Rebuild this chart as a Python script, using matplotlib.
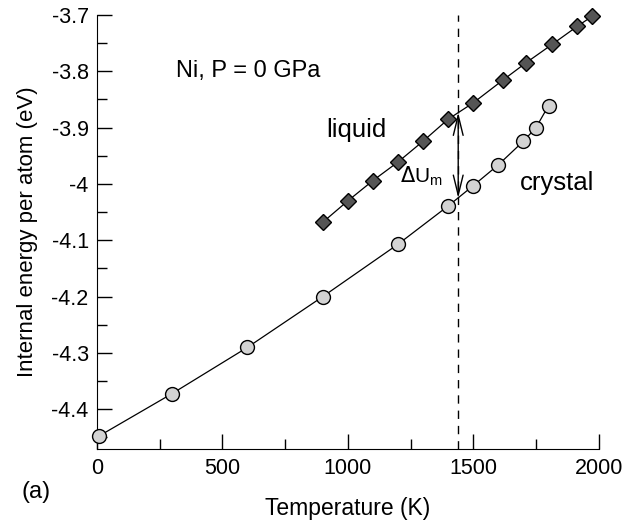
import matplotlib.pyplot as plt
from matplotlib.ticker import MultipleLocator

plt.rcParams['font.family'] = ['Liberation Sans', 'DejaVu Sans']

# crystal branch
t_crystal = [10, 300, 600, 900, 1200, 1400, 1500, 1600, 1700, 1750, 1800]
u_crystal = [-4.447, -4.372, -4.290, -4.200, -4.107, -4.039, -4.003, -3.966,
             -3.924, -3.900, -3.861]

# liquid branch
t_liquid = [900, 1000, 1100, 1200, 1300, 1400, 1500, 1620, 1710, 1815, 1915, 1975]
u_liquid = [-4.068, -4.030, -3.994, -3.961, -3.924, -3.885, -3.856, -3.815,
            -3.785, -3.752, -3.720, -3.702]

t_melt = 1440
u_top = -3.873
u_bottom = -4.025

fig = plt.figure(figsize=(6.41, 5.20), dpi=100)
ax = fig.add_axes([0.1513, 0.136, 0.7827, 0.8352])

ax.plot(t_crystal, u_crystal, color='black', lw=0.9, marker='o', ms=10,
        mfc='#d3d3d3', mec='black', mew=1.0, zorder=3, clip_on=False)
ax.plot(t_liquid, u_liquid, color='black', lw=0.9, marker='D', ms=8.5,
        mfc='#555555', mec='black', mew=1.0, zorder=3, clip_on=False)

ax.axvline(t_melt, color='black', lw=1.0, ls=(0, (6, 5)), zorder=1)
# melting energy jump between the two branches
ax.annotate('', xy=(t_melt, u_bottom), xytext=(t_melt, u_top),
            arrowprops=dict(arrowstyle='<->, head_length=0.9, head_width=0.22',
                            color='black', lw=1.0, mutation_scale=16,
                            shrinkA=0, shrinkB=0))

ax.text(315, -3.80, 'Ni, P = 0 GPa', fontsize=17, va='center')
ax.text(915, -3.905, 'liquid', fontsize=18.5, va='center')
ax.text(1685, -3.998, 'crystal', fontsize=18.5, va='center')
ax.text(1378, -3.986, r'$\Delta$U$_\mathregular{m}$', fontsize=15,
        va='center', ha='right')

ax.set_xlim(0, 2000)
ax.set_ylim(-4.471, -3.7)
ax.xaxis.set_major_locator(MultipleLocator(500))
ax.xaxis.set_minor_locator(MultipleLocator(250))
ax.yaxis.set_major_locator(MultipleLocator(0.1))
ax.yaxis.set_minor_locator(MultipleLocator(0.05))
ax.yaxis.set_major_formatter(plt.FuncFormatter(lambda v, p: f'{v:.1f}'.replace('-4.0', '-4')))

ax.tick_params(which='major', direction='in', length=11, width=1.0, labelsize=15.5, pad=6)
ax.tick_params(which='minor', direction='in', length=7, width=1.0)
ax.spines['top'].set_visible(False)
ax.spines['right'].set_visible(False)

ax.set_xlabel('Temperature (K)', fontsize=16.5, labelpad=13)
ax.set_ylabel('Internal energy per atom (eV)', fontsize=16, labelpad=10)
fig.text(0.034, 0.043, '(a)', fontsize=17)

fig.savefig('out.png', dpi=100)
